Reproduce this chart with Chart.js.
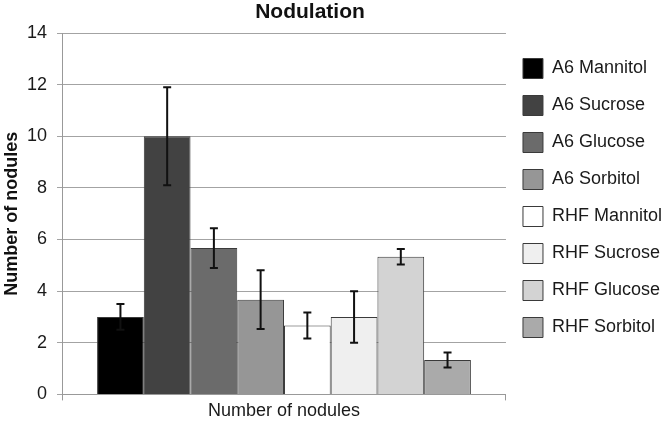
<!DOCTYPE html>
<html>
<head>
<meta charset="utf-8">
<script src="https://cdn.jsdelivr.net/npm/chart.js@4/dist/chart.umd.min.js"></script>
<style>
  html, body { margin: 0; padding: 0; background: #fff; }
  #wrap { width: 666px; height: 422px; }
</style>
</head>
<body>
<div id="wrap"><canvas id="noduleChart"></canvas></div>
<script>
const categories = ['Number of nodules'];
const seriesNames = ['A6 Mannitol', 'A6 Sucrose', 'A6 Glucose', 'A6 Sorbitol', 'RHF Mannitol', 'RHF Sucrose', 'RHF Glucose', 'RHF Sorbitol'];
const meanValues = [3.0, 10.0, 5.67, 3.67, 2.67, 3.0, 5.33, 1.33];
const errorValues = [0.5, 1.9, 0.77, 1.14, 0.5, 1.0, 0.3, 0.29];
const fillColors = ['#000000', '#424242', '#6b6b6b', '#969696', '#ffffff', '#efefef', '#d3d3d3', '#aaaaaa'];

Chart.defaults.font.family = "'Liberation Sans', Arial, sans-serif";
Chart.defaults.color = '#1a1a1a';

// error bars drawn on top of each bar
const errorBars = {
    id: 'errorBars',
    afterDatasetsDraw(chart) {
        const c = chart.ctx;
        const y = chart.scales.y;
        c.save();
        c.strokeStyle = '#111';
        c.lineWidth = 2;
        chart.data.datasets.forEach((ds, i) => {
            const bar = chart.getDatasetMeta(i).data[0];
            if (!bar) return;
            const v = ds.data[0], e = ds.errors[0];
            const top = y.getPixelForValue(v + e);
            const bot = y.getPixelForValue(v - e);
            c.beginPath();
            c.moveTo(bar.x, top); c.lineTo(bar.x, bot);
            c.moveTo(bar.x - 4, top); c.lineTo(bar.x + 4, top);
            c.moveTo(bar.x - 4, bot); c.lineTo(bar.x + 4, bot);
            c.stroke();
        });
        c.restore();
    }
};

const titleText = {
    id: 'titleText',
    afterDraw(chart) {
        const c = chart.ctx;
        c.save();
        c.font = "bold 21px 'Liberation Sans', Arial, sans-serif";
        c.fillStyle = '#111';
        c.textAlign = 'center';
        c.textBaseline = 'middle';
        c.fillText('Nodulation', 310, 12);
        c.restore();
    }
};

const datasets = seriesNames.map((name, i) => ({
    label: name,
    data: [meanValues[i]],
    errors: [errorValues[i]],
    backgroundColor: fillColors[i],
    borderColor: '#3a3a3a',
    borderWidth: 1,
    barPercentage: 1.0,
    categoryPercentage: 0.842
}));

new Chart(document.getElementById('noduleChart'), {
    type: 'bar',
    data: { labels: categories, datasets: datasets },
    plugins: [errorBars, titleText],
    options: {
        responsive: true, maintainAspectRatio: false, animation: false,
        layout: { padding: { top: 33, right: -6, bottom: 0, left: 0 } },
        plugins: {
            title: { display: false },
            tooltip: { enabled: false },
            legend: {
                position: 'right',
                align: 'start',
                title: { display: true, text: '', font: { size: 5 }, padding: { top: 0, bottom: 2.5 } },
                labels: {
                    font: { size: 18 },
                    color: '#1a1a1a',
                    boxWidth: 20, boxHeight: 20,
                    padding: 17
                }
            }
        },
        scales: {
            x: {
                grid: { display: true, drawOnChartArea: false, color: '#999', tickLength: 6 },
                border: { color: '#999' },
                ticks: { font: { size: 18 }, color: '#1a1a1a', padding: 0 }
            },
            y: {
                min: 0, max: 14,
                afterFit(scale) { scale.width = 62; },
                ticks: { stepSize: 2, font: { size: 18 }, color: '#1a1a1a', padding: 10 },
                grid: { color: '#a3a3a3', tickLength: 5 },
                border: { color: '#999' },
                title: { display: true, text: 'Number of nodules', font: { size: 18, weight: 'bold' }, color: '#111', padding: { top: 1, bottom: 4 } }
            }
        }
    }
});
</script>
</body>
</html>
